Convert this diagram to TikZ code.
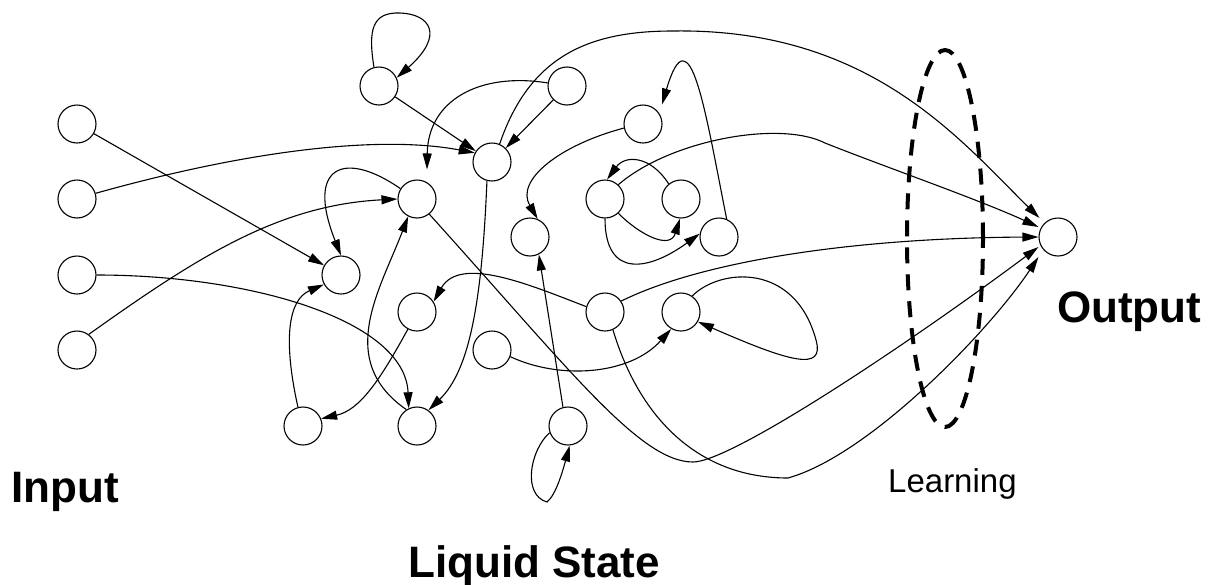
\documentclass[tikz,border=0pt]{standalone}
\usepackage{fontspec}
\setmainfont{Liberation Sans}
\usetikzlibrary{arrows.meta}
\begin{document}
\begin{tikzpicture}[x=1pt,y=-1pt,
  neuron/.style={circle,draw,line width=1.1pt,minimum size=38pt,inner sep=0pt},
  conn/.style={line width=1.1pt,-{Triangle[length=16pt,width=9pt]}},
  bigtext/.style={font=\fontsize{44}{48}\selectfont\bfseries,inner sep=0pt,anchor=base west},
  smalltext/.style={font=\fontsize{33}{36}\selectfont,inner sep=0pt,anchor=base west},
  learnring/.style={line width=4pt,dash pattern=on 16pt off 11pt}]
\useasboundingbox (0,0) rectangle (1208,584);
% neurons
\node[neuron] (I1) at (77,124) {};
\node[neuron] (I2) at (77,199) {};
\node[neuron] (I3) at (77,275) {};
\node[neuron] (I4) at (77,350) {};
\node[neuron] (A) at (379,86) {};
\node[neuron] (B) at (567,86) {};
\node[neuron] (C) at (492,162) {};
\node[neuron] (D) at (643,124) {};
\node[neuron] (E) at (417,199) {};
\node[neuron] (F) at (341,275) {};
\node[neuron] (G) at (530,237) {};
\node[neuron] (H) at (605,199) {};
\node[neuron] (J) at (681,199) {};
\node[neuron] (K) at (719,237) {};
\node[neuron] (L) at (417,312) {};
\node[neuron] (M) at (492,350) {};
\node[neuron] (N) at (605,312) {};
\node[neuron] (P) at (681,312) {};
\node[neuron] (Q) at (303,426) {};
\node[neuron] (R) at (417,426) {};
\node[neuron] (S) at (568,426) {};
\node[neuron] (O) at (1058,237) {};
% learning ring
\draw[learnring] (945,238.5) ellipse [x radius=38pt, y radius=188.5pt];
% connections
\draw[conn] (I1) -- (F);
\draw[conn] (I2.17) .. controls (250,150) and (380,135) .. (C.152);
\draw[conn] (I3.east) .. controls (250,275) and (405,320) .. (R.115);
\draw[conn] (I4.53) .. controls (200,255) and (280,205) .. (E.west);
\draw[conn] (A.105) .. controls (368,30) and (372,12) .. (400,13) .. controls (430,14) and (445,35) .. (A.25);
\draw[conn] (A) -- (C);
\draw[conn] (B) -- (C);
\draw[conn] (B.171) .. controls (480,72) and (428,100) .. ([shift={(10pt,10pt)}]E.north);
\draw[conn] (C.67) .. controls (530,55) and (590,31) .. (673,31) .. controls (870,28) and (960,140) .. ([shift={(1pt,19pt)}]O.west);
\draw[conn] (C.255) .. controls (482,300) and (470,370) .. (R.54);
\draw[conn] (D.192) .. controls (560,145) and (515,180) .. (G.67);
\draw[conn] (K.67) .. controls (705,110) and (690,10) .. ([xshift=19pt]D.north);
\draw[conn] (E.148) .. controls (345,150) and (305,165) .. (F.north);
\draw[conn] (E.-51) .. controls (570,370) and (640,462) .. (693,462) .. controls (730,462) and (900,350) .. ([yshift=-10pt]O.west);
\draw[conn] (H.-47) .. controls (640,235) and (670,250) .. (J.-93);
\draw[conn] (J.129) .. controls (650,155) and (625,155) .. (H.84);
\draw[conn] (H.south) .. controls (605,280) and (650,270) .. (K.170);
\draw[conn] (H.47) .. controls (670,140) and (780,120) .. (825,143) .. controls (880,165) and (980,200) .. ([yshift=10pt]O.west);
\draw[conn] (L.242) .. controls (380,380) and (360,410) .. (Q.22);
\draw[conn] (N.164) .. controls (530,285) and (460,255) .. (L.32);
\draw[conn] (M.-20) .. controls (560,380) and (630,375) .. (P.240);
\draw[conn] (N.34) .. controls (700,262) and (850,238) .. (O.west);
\draw[conn] (N.-66) .. controls (640,420) and (700,478) .. (788,478) .. controls (870,455) and (990,330) .. ([yshift=-20pt]O.west);
\draw[conn] (P.55) .. controls (720,268) and (795,262) .. (816,340) .. controls (825,372) and (790,362) .. (P.-30);
\draw[conn] (Q.105) .. controls (283,340) and (288,300) .. (F.209);
\draw[conn] (R.123) .. controls (335,360) and (380,290) .. (E.243);
\draw[conn] (S.105) -- (G.-63);
\draw[conn] (S.200) .. controls (530,450) and (522,495) .. (547,502) .. controls (556,495) and (563,470) .. (S.-85);
% labels
\node[bigtext] (input) at (11,502) {Input};
\node[bigtext] (liquid) at (408,577) {Liquid State};
\node[bigtext] (output) at (1057,322) {Output};
\node[smalltext] (learn) at (888,492) {Learning};
\end{tikzpicture}
\end{document}
